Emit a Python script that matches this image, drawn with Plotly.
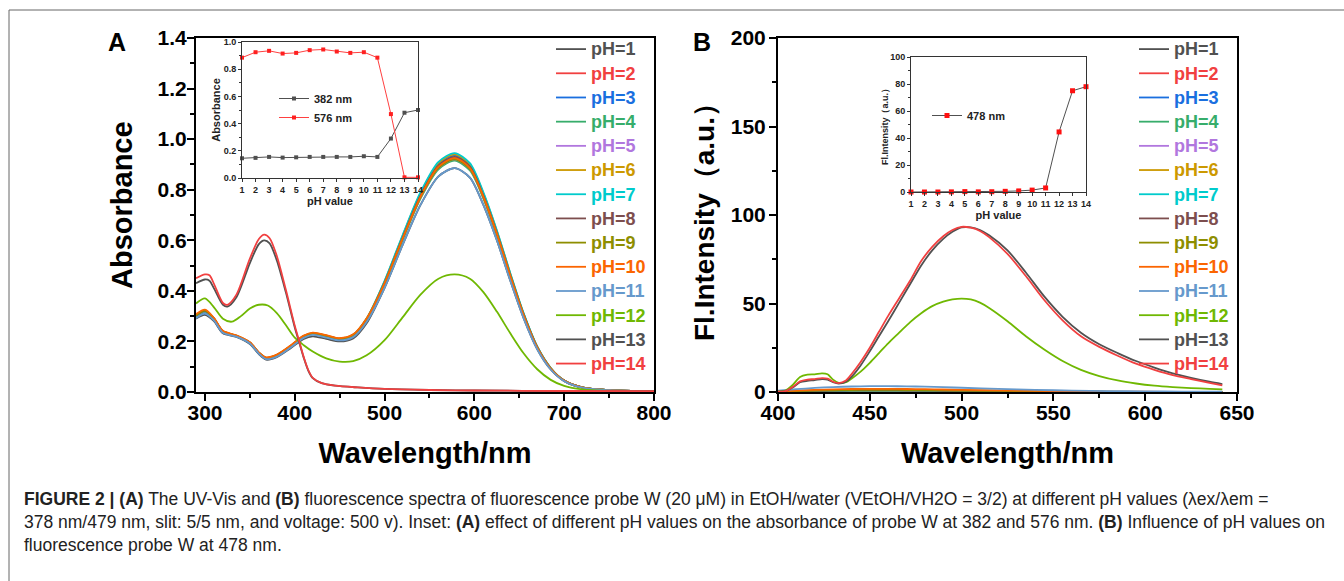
import plotly.graph_objects as go

# ---------------- data ----------------
PH_LABELS = [f"pH={i}" for i in range(1, 15)]
COLORS = ["#515151", "#F14040", "#1A6FDF", "#37AD6B", "#B177DE", "#CC9900", "#00CBCC",
          "#7D4E4E", "#8E8E00", "#FB6501", "#6699CC", "#6FB802", "#515151", "#F14040"]

# Panel A: UV-Vis absorbance
WL_A = [290, 300, 310, 320, 335, 350, 360, 368, 380, 395, 410, 420, 435, 450, 465, 480,
        500, 520, 540, 560, 578, 595, 610, 625, 640, 655, 670, 685, 700, 720, 750, 800]
A_PH1 = [0.290, 0.305, 0.280, 0.232, 0.218, 0.190, 0.150, 0.128, 0.138, 0.172, 0.210, 0.220, 0.210, 0.200, 0.212, 0.272,
         0.412, 0.581, 0.740, 0.853, 0.885, 0.848, 0.740, 0.600, 0.440, 0.290, 0.169, 0.089, 0.043, 0.017, 0.007, 0.003]
A_PH2 = [0.300, 0.320, 0.290, 0.238, 0.222, 0.195, 0.155, 0.134, 0.145, 0.180, 0.220, 0.231, 0.221, 0.209, 0.223, 0.285,
         0.431, 0.607, 0.773, 0.891, 0.925, 0.886, 0.773, 0.627, 0.460, 0.303, 0.176, 0.093, 0.045, 0.018, 0.007, 0.003]
A_PH3 = [0.295, 0.312, 0.285, 0.236, 0.220, 0.193, 0.153, 0.132, 0.142, 0.177, 0.217, 0.229, 0.219, 0.207, 0.221, 0.283,
         0.435, 0.613, 0.781, 0.900, 0.935, 0.895, 0.781, 0.633, 0.465, 0.307, 0.178, 0.094, 0.045, 0.018, 0.007, 0.003]
A_PH4 = [0.298, 0.318, 0.288, 0.238, 0.221, 0.194, 0.154, 0.133, 0.144, 0.179, 0.219, 0.231, 0.221, 0.209, 0.223, 0.286,
         0.426, 0.600, 0.765, 0.881, 0.915, 0.876, 0.765, 0.620, 0.455, 0.300, 0.174, 0.092, 0.045, 0.018, 0.007, 0.003]
A_PH5 = [0.300, 0.320, 0.289, 0.239, 0.222, 0.195, 0.155, 0.134, 0.145, 0.180, 0.220, 0.232, 0.222, 0.210, 0.224, 0.287,
         0.429, 0.604, 0.769, 0.886, 0.920, 0.881, 0.769, 0.623, 0.458, 0.302, 0.175, 0.093, 0.045, 0.018, 0.007, 0.003]
A_PH6 = [0.303, 0.323, 0.291, 0.240, 0.223, 0.196, 0.156, 0.136, 0.147, 0.182, 0.222, 0.234, 0.224, 0.212, 0.227, 0.292,
         0.438, 0.617, 0.786, 0.905, 0.940, 0.900, 0.786, 0.637, 0.468, 0.308, 0.179, 0.095, 0.045, 0.018, 0.007, 0.003]
A_PH7 = [0.300, 0.322, 0.290, 0.240, 0.222, 0.195, 0.155, 0.135, 0.145, 0.180, 0.220, 0.232, 0.222, 0.210, 0.225, 0.290,
         0.440, 0.620, 0.790, 0.910, 0.945, 0.905, 0.790, 0.640, 0.470, 0.310, 0.180, 0.095, 0.045, 0.018, 0.007, 0.003]
A_PH8 = [0.301, 0.321, 0.290, 0.240, 0.222, 0.195, 0.155, 0.135, 0.146, 0.181, 0.221, 0.233, 0.223, 0.211, 0.225, 0.289,
         0.433, 0.610, 0.777, 0.895, 0.930, 0.891, 0.777, 0.630, 0.462, 0.305, 0.177, 0.093, 0.045, 0.018, 0.007, 0.003]
A_PH9 = [0.302, 0.322, 0.290, 0.240, 0.222, 0.195, 0.155, 0.135, 0.145, 0.180, 0.220, 0.232, 0.222, 0.210, 0.224, 0.288,
         0.429, 0.604, 0.769, 0.886, 0.920, 0.881, 0.769, 0.623, 0.458, 0.302, 0.175, 0.093, 0.045, 0.018, 0.007, 0.003]
A_PH10 = [0.308, 0.326, 0.293, 0.242, 0.224, 0.197, 0.157, 0.137, 0.148, 0.183, 0.223, 0.235, 0.225, 0.213, 0.228, 0.291,
          0.431, 0.607, 0.773, 0.891, 0.925, 0.886, 0.773, 0.627, 0.460, 0.303, 0.176, 0.093, 0.045, 0.018, 0.007, 0.003]
A_PH11 = [0.292, 0.310, 0.283, 0.234, 0.219, 0.192, 0.152, 0.130, 0.140, 0.175, 0.214, 0.226, 0.215, 0.204, 0.217, 0.277,
          0.412, 0.581, 0.740, 0.853, 0.885, 0.848, 0.740, 0.600, 0.440, 0.290, 0.169, 0.089, 0.043, 0.017, 0.007, 0.003]

WL_A12 = [290, 300, 310, 320, 330, 340, 350, 360, 370, 380, 390, 400, 410, 420, 435, 450, 465, 480,
          500, 520, 540, 560, 578, 595, 610, 625, 640, 655, 670, 685, 700, 720, 750, 800]
A_PH12 = [0.350, 0.370, 0.335, 0.290, 0.278, 0.300, 0.330, 0.345, 0.342, 0.312, 0.265, 0.215, 0.185, 0.160, 0.133, 0.120, 0.122, 0.145,
          0.205, 0.295, 0.385, 0.448, 0.465, 0.448, 0.395, 0.318, 0.232, 0.152, 0.090, 0.048, 0.024, 0.010, 0.004, 0.002]

WL_A13 = [290, 300, 305, 310, 320, 325, 335, 350, 360, 366, 372, 380, 390, 400, 405, 410, 415, 420,
          430, 445, 470, 500, 550, 600, 700, 800]
A_PH13 = [0.430, 0.445, 0.440, 0.410, 0.345, 0.338, 0.375, 0.510, 0.585, 0.600, 0.588, 0.520, 0.395, 0.255, 0.195, 0.135, 0.085, 0.055,
          0.035, 0.025, 0.018, 0.012, 0.008, 0.006, 0.004, 0.003]
A_PH14 = [0.450, 0.465, 0.462, 0.428, 0.352, 0.345, 0.385, 0.528, 0.605, 0.622, 0.608, 0.538, 0.405, 0.262, 0.200, 0.138, 0.087, 0.056,
          0.035, 0.025, 0.018, 0.012, 0.008, 0.006, 0.004, 0.003]

# Panel B: fluorescence intensity
WL_B_LOW = [400, 410, 420, 430, 440, 450, 460, 470, 480, 490, 500, 520, 540, 560, 580, 600, 620, 642]
B_PH1 = [0.10, 0.20, 0.30, 0.38, 0.44, 0.47, 0.47, 0.45, 0.41, 0.36, 0.31, 0.23, 0.15, 0.10, 0.07, 0.05, 0.04, 0.04]
B_PH2 = [0.10, 0.20, 0.32, 0.40, 0.46, 0.50, 0.50, 0.47, 0.43, 0.38, 0.33, 0.24, 0.16, 0.11, 0.07, 0.05, 0.04, 0.04]
B_PH3 = [0.10, 0.22, 0.35, 0.45, 0.52, 0.56, 0.56, 0.53, 0.48, 0.42, 0.36, 0.27, 0.18, 0.12, 0.08, 0.06, 0.05, 0.05]
B_PH4 = [0.10, 0.25, 0.38, 0.48, 0.55, 0.60, 0.60, 0.56, 0.52, 0.45, 0.39, 0.29, 0.20, 0.13, 0.08, 0.06, 0.05, 0.05]
B_PH5 = [0.15, 0.30, 0.45, 0.58, 0.68, 0.72, 0.72, 0.68, 0.62, 0.55, 0.47, 0.35, 0.24, 0.16, 0.10, 0.07, 0.05, 0.05]
B_PH6 = [0.15, 0.30, 0.45, 0.55, 0.65, 0.70, 0.70, 0.65, 0.60, 0.52, 0.45, 0.33, 0.22, 0.15, 0.10, 0.07, 0.05, 0.05]
B_PH7 = [0.15, 0.35, 0.50, 0.65, 0.75, 0.80, 0.80, 0.75, 0.70, 0.60, 0.50, 0.38, 0.26, 0.17, 0.10, 0.08, 0.06, 0.06]
B_PH8 = [0.20, 0.40, 0.60, 0.80, 0.90, 0.90, 0.90, 0.85, 0.80, 0.70, 0.60, 0.45, 0.30, 0.20, 0.12, 0.10, 0.08, 0.08]
B_PH9 = [0.20, 0.50, 0.80, 1.00, 1.10, 1.20, 1.20, 1.10, 1.00, 0.90, 0.80, 0.60, 0.40, 0.25, 0.15, 0.10, 0.10, 0.10]
B_PH10 = [0.30, 0.80, 1.20, 1.50, 1.70, 1.80, 1.80, 1.70, 1.60, 1.40, 1.20, 0.90, 0.60, 0.40, 0.25, 0.15, 0.10, 0.10]
B_PH11 = [0.80, 1.60, 2.30, 2.80, 3.10, 3.30, 3.30, 3.20, 3.00, 2.70, 2.40, 1.80, 1.20, 0.80, 0.50, 0.35, 0.25, 0.20]

WL_B_HIGH = [400, 404, 408, 412, 416, 420, 424, 427, 430, 433, 437, 440, 445, 450, 455, 460, 466, 472, 478, 484,
             490, 495, 500, 505, 510, 515, 525, 535, 545, 555, 565, 575, 585, 595, 605, 615, 625, 635, 642]
B_PH12 = [0.3, 0.8, 4.0, 8.5, 9.8, 10.0, 10.5, 10.0, 7.0, 5.2, 5.5, 7.5, 11.5, 16.5, 22.0, 27.5, 33.5, 39.5, 44.5, 48.5,
          51.0, 52.3, 52.8, 52.3, 50.5, 47.5, 40.0, 31.5, 24.0, 17.5, 12.5, 9.0, 6.5, 4.8, 3.6, 2.8, 2.2, 1.8, 1.5]
B_PH13 = [0.2, 0.5, 2.5, 5.5, 6.3, 6.7, 7.3, 7.0, 5.5, 4.8, 5.8, 8.5, 15.0, 23.0, 31.5, 40.0, 50.5, 61.0, 71.5, 80.0,
          86.5, 90.5, 93.0, 93.0, 91.5, 88.5, 80.0, 67.5, 54.0, 42.5, 33.5, 27.0, 22.0, 17.5, 13.8, 10.5, 8.0, 5.8, 4.5]
B_PH14 = [0.2, 0.5, 2.8, 6.0, 7.0, 7.3, 7.8, 7.5, 5.8, 5.0, 6.5, 10.0, 17.0, 25.0, 34.0, 43.0, 53.0, 63.0, 74.0, 82.0,
          88.0, 91.5, 93.3, 92.8, 91.0, 87.5, 78.0, 65.5, 52.0, 40.5, 31.5, 25.5, 20.5, 16.0, 12.5, 9.5, 7.3, 5.2, 3.8]

# Insets
PH_VALUES = list(range(1, 15))
ABS_382 = [0.145, 0.148, 0.155, 0.150, 0.152, 0.155, 0.155, 0.155, 0.155, 0.160, 0.155, 0.290, 0.480, 0.500]
ABS_576 = [0.885, 0.925, 0.935, 0.915, 0.920, 0.940, 0.945, 0.930, 0.920, 0.925, 0.885, 0.470, 0.005, 0.005]
FL_478 = [0.0, 0.0, 0.0, 0.1, 0.3, 0.1, 0.2, 0.5, 0.8, 1.4, 3.0, 44.5, 75.0, 78.0]

A_SERIES = [(WL_A, A_PH1), (WL_A, A_PH2), (WL_A, A_PH3), (WL_A, A_PH4), (WL_A, A_PH5), (WL_A, A_PH6),
            (WL_A, A_PH7), (WL_A, A_PH8), (WL_A, A_PH9), (WL_A, A_PH10), (WL_A, A_PH11),
            (WL_A12, A_PH12), (WL_A13, A_PH13), (WL_A13, A_PH14)]
B_SERIES = [(WL_B_LOW, B_PH1), (WL_B_LOW, B_PH2), (WL_B_LOW, B_PH3), (WL_B_LOW, B_PH4), (WL_B_LOW, B_PH5),
            (WL_B_LOW, B_PH6), (WL_B_LOW, B_PH7), (WL_B_LOW, B_PH8), (WL_B_LOW, B_PH9), (WL_B_LOW, B_PH10),
            (WL_B_LOW, B_PH11), (WL_B_HIGH, B_PH12), (WL_B_HIGH, B_PH13), (WL_B_HIGH, B_PH14)]

CAPTION = [
    "<b>FIGURE 2 | (A)</b> The UV-Vis and <b>(B)</b> fluorescence spectra of fluorescence probe W (20 μM) in EtOH/water (VEtOH/VH2O = 3/2) at different pH values (λex/λem =",
    "378 nm/479 nm, slit: 5/5 nm, and voltage: 500 v). Inset: <b>(A)</b> effect of different pH values on the absorbance of probe W at 382 and 576 nm. <b>(B)</b> Influence of pH values on",
    "fluorescence probe W at 478 nm.",
]

# ---------------- figure ----------------
W, H = 1344, 581
FONT = "Arial, 'Liberation Sans', sans-serif"


def fx(px):
    return px / W


def fy(py):
    return 1 - py / H


fig = go.Figure()

for i, (x, y) in enumerate(A_SERIES):
    fig.add_trace(go.Scatter(
        x=x, y=y, mode="lines", line=dict(color=COLORS[i], width=1.8, shape="spline", smoothing=0.8),
        name=f"<span style='color:{COLORS[i]};font-size:18px'>{PH_LABELS[i]}</span>",
        xaxis="x", yaxis="y", legend="legend", hoverinfo="skip"))

for i, (x, y) in enumerate(B_SERIES):
    fig.add_trace(go.Scatter(
        x=x, y=y, mode="lines", line=dict(color=COLORS[i], width=1.8, shape="spline", smoothing=0.8),
        name=f"<span style='color:{COLORS[i]};font-size:18px'>{PH_LABELS[i]}</span>",
        xaxis="x2", yaxis="y2", legend="legend2", hoverinfo="skip"))

fig.add_trace(go.Scatter(x=PH_VALUES, y=ABS_382, mode="lines+markers", name="382 nm",
                         line=dict(color="#505050", width=1), marker=dict(symbol="square", size=4, color="#505050"),
                         xaxis="x3", yaxis="y3", legend="legend3", cliponaxis=False))
fig.add_trace(go.Scatter(x=PH_VALUES, y=ABS_576, mode="lines+markers", name="576 nm",
                         line=dict(color="#FF4040", width=1), marker=dict(symbol="square", size=4, color="#FF2020"),
                         xaxis="x3", yaxis="y3", legend="legend3", cliponaxis=False))
fig.add_trace(go.Scatter(x=PH_VALUES, y=FL_478, mode="lines+markers", name="478 nm",
                         line=dict(color="#505050", width=1), marker=dict(symbol="square", size=5, color="#FF1010"),
                         xaxis="x4", yaxis="y4", legend="legend4", cliponaxis=False))

main_tick = dict(family=FONT, size=21, color="black", weight="bold")
main_title = dict(family=FONT, size=29, color="black", weight="bold")
inset_tick = dict(family=FONT, size=9, color="#222", weight="bold")
inset_title = dict(family=FONT, size=11, color="#222", weight="bold")


def main_axis(**kw):
    d = dict(showline=True, linewidth=2, linecolor="black", mirror=True, ticks="outside", ticklen=7,
             tickwidth=2, tickcolor="black", showgrid=False, zeroline=False, tickfont=main_tick,
             automargin=False)
    d.update(kw)
    return d


def inset_axis(**kw):
    d = dict(showline=True, linewidth=1, linecolor="#333", mirror=True, ticks="outside", ticklen=3,
             tickwidth=1, tickcolor="#333", showgrid=False, zeroline=False, tickfont=inset_tick,
             automargin=False)
    d.update(kw)
    return d


MAIN_MINOR = dict(ticks="outside", ticklen=4, tickwidth=1.5, tickcolor="black")
INSET_MINOR = dict(ticks="outside", ticklen=2, tickwidth=1, tickcolor="#333")

fig.update_layout(
    width=W, height=H, margin=dict(l=0, r=0, t=0, b=0, pad=0, autoexpand=False),
    paper_bgcolor="white", plot_bgcolor="rgba(0,0,0,0)", showlegend=True,
    font=dict(family=FONT, color="black"),
    xaxis=main_axis(domain=[fx(196), fx(654)], range=[290, 800], tick0=300, dtick=100, anchor="y",
                    minor=dict(MAIN_MINOR, dtick=50, tick0=300), ticklabelstandoff=-6,
                    title=dict(text="Wavelength/nm", font=main_title, standoff=19)),
    yaxis=main_axis(domain=[fy(392), fy(38)], range=[0, 1.4], dtick=0.2, tickformat=".1f", anchor="x",
                    minor=dict(MAIN_MINOR, dtick=0.1), ticklabelstandoff=-4),
    xaxis2=main_axis(domain=[fx(778), fx(1237)], range=[400, 650], dtick=50, anchor="y2",
                     minor=dict(MAIN_MINOR, dtick=25), ticklabelstandoff=-6,
                     title=dict(text="Wavelength/nm", font=main_title, standoff=19)),
    yaxis2=main_axis(domain=[fy(392), fy(38)], range=[0, 200], dtick=50, anchor="x2",
                     minor=dict(MAIN_MINOR, dtick=25), ticklabelstandoff=-1,
                     title=dict(text="Fl.Intensity（a.u.）", font=dict(main_title, size=28), standoff=8)),
    xaxis3=inset_axis(domain=[fx(242), fx(418)], range=[1, 14], dtick=1, anchor="y3",
                      title=dict(text="pH value", font=inset_title, standoff=3)),
    yaxis3=inset_axis(domain=[fy(178), fy(42)], range=[0, 1], dtick=0.2, tickformat=".1f", anchor="x3",
                      minor=dict(INSET_MINOR, dtick=0.1),
                      title=dict(text="Absorbance", font=inset_title, standoff=0)),
    xaxis4=inset_axis(domain=[fx(911), fx(1086)], range=[1, 14], dtick=1, anchor="y4",
                      title=dict(text="pH value", font=inset_title, standoff=3)),
    yaxis4=inset_axis(domain=[fy(192), fy(57)], range=[0, 100], dtick=20, anchor="x4",
                      minor=dict(INSET_MINOR, dtick=10),
                      title=dict(text="Fl.Intensity（a.u.）", font=dict(inset_title, size=9), standoff=0)),
    legend=dict(x=fx(551), y=fy(32), xanchor="left", yanchor="top", bgcolor="rgba(0,0,0,0)",
                font=dict(family=FONT, size=16.3, weight="bold"), tracegroupgap=0),
    legend2=dict(x=fx(1134), y=fy(32), xanchor="left", yanchor="top", bgcolor="rgba(0,0,0,0)",
                 font=dict(family=FONT, size=16.3, weight="bold"), tracegroupgap=0),
    legend3=dict(x=fx(274), y=fy(84), xanchor="left", yanchor="top", bgcolor="rgba(0,0,0,0)",
                 font=dict(family=FONT, size=11, weight="bold", color="#222"), tracegroupgap=0),
    legend4=dict(x=fx(927), y=fy(101), xanchor="left", yanchor="top", bgcolor="rgba(0,0,0,0)",
                 font=dict(family=FONT, size=11, weight="bold", color="#222"), tracegroupgap=0),
)

annotations = [
    dict(text="<b>A</b>", x=fx(117), y=fy(42), xref="paper", yref="paper", showarrow=False,
         font=dict(family=FONT, size=25, color="black"), xanchor="center", yanchor="middle"),
    dict(text="<b>B</b>", x=fx(702), y=fy(42), xref="paper", yref="paper", showarrow=False,
         font=dict(family=FONT, size=25, color="black"), xanchor="center", yanchor="middle"),
    # y-axis title of panel A (placed slightly above the axis centre, as in the original)
    dict(text="<b>Absorbance</b>", x=fx(122), y=fy(205), xref="paper", yref="paper", showarrow=False,
         textangle=-90, font=dict(family=FONT, size=29, color="black"), xanchor="center", yanchor="middle"),
]
for line, ypx in zip(CAPTION, [499, 522, 545]):
    annotations.append(dict(text=line, x=fx(22), y=fy(ypx), xref="paper", yref="paper", showarrow=False,
                            xanchor="left", yanchor="middle", align="left",
                            font=dict(family=FONT, size=17.5, color="#222")))
fig.update_layout(annotations=annotations)

fig.add_shape(type="rect", xref="paper", yref="paper", x0=fx(9), x1=1.01, y0=-0.02, y1=fy(10),
              line=dict(color="#666", width=1), fillcolor="rgba(0,0,0,0)", layer="below")

fig.write_html("out.html", config={"displayModeBar": False},
               post_script="document.body.style.margin='0';")
